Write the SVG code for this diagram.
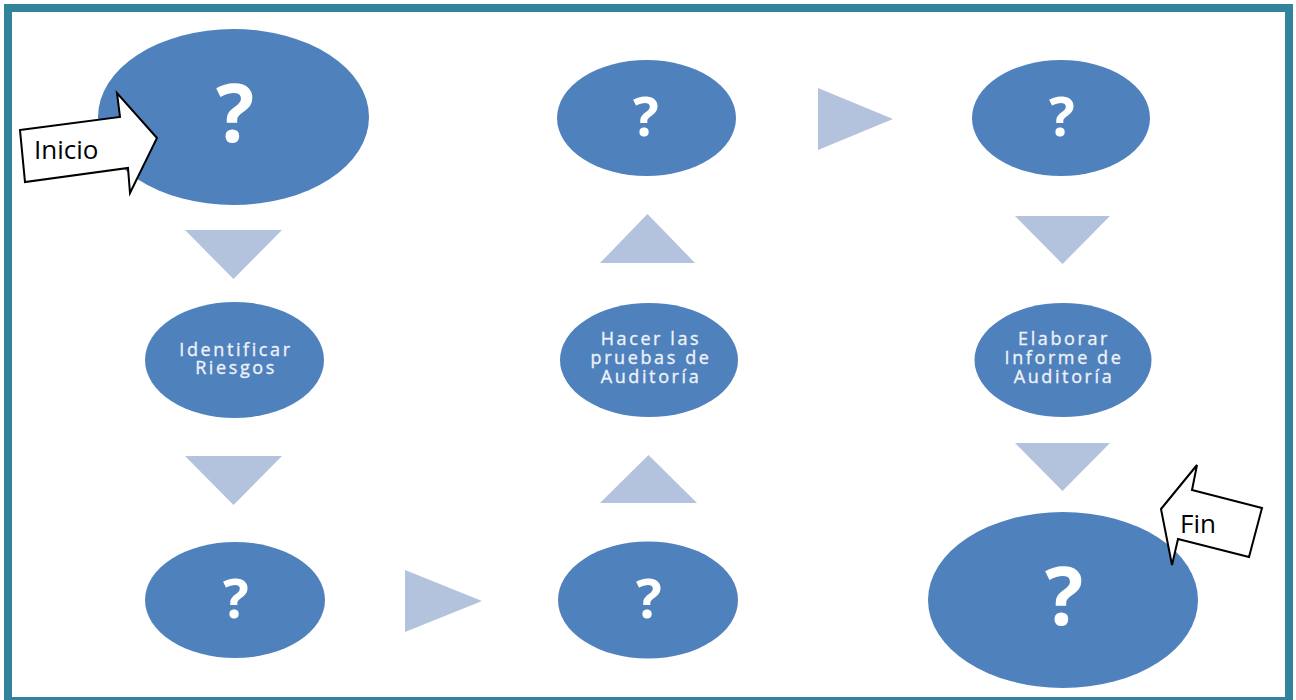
<svg xmlns="http://www.w3.org/2000/svg" width="1296" height="700" viewBox="0 0 1296 700">
  <style>
    .node { fill: #4F81BD; }
    .q { fill: #FFFFFF; font-family: "Open Sans", "DejaVu Sans", sans-serif; font-weight: bold; text-anchor: middle; }
    .lbl { fill: #EEF2F8; stroke: #EEF2F8; stroke-width: 0.35px; font-family: "Open Sans", "DejaVu Sans", sans-serif; font-size: 18px; letter-spacing: 2.6px; text-anchor: middle; }
    .tri { fill: #B3C2DD; }
    .callout { fill: #FFFFFF; stroke: #000000; stroke-width: 2; stroke-linejoin: miter; }
    .ctext { fill: #000000; font-family: "Open Sans", "Liberation Sans", sans-serif; font-size: 26px; }
  </style>

  <!-- frame -->
  <rect x="0" y="0" width="1296" height="700" fill="#FFFFFF"/>
  <rect x="8" y="8" width="1281" height="693" fill="#FFFFFF" stroke="#31849B" stroke-width="8"/>

  <!-- flow arrows (triangles) -->
  <g id="connectors">
    <polygon class="tri" points="185,230 282,230 233.5,279"/>
    <polygon class="tri" points="185,456 282,456 233.5,505"/>
    <polygon class="tri" points="405,570 482,601 405,632"/>
    <polygon class="tri" points="600,503 697,503 648.5,455"/>
    <polygon class="tri" points="600,263 695,263 647.5,214"/>
    <polygon class="tri" points="818,88 893,119 818,150"/>
    <polygon class="tri" points="1015,216 1110,216 1062.5,264"/>
    <polygon class="tri" points="1015,443 1110,443 1062.5,491"/>
  </g>

  <g id="start">
    <ellipse class="node" cx="233.5" cy="117" rx="135.5" ry="88"/>
    <text class="q" x="235" y="142" font-size="80">?</text>
  </g>

  <g id="identificar">
    <ellipse class="node" cx="234.5" cy="360" rx="89.5" ry="58"/>
    <text class="lbl" x="236" y="356">Identificar</text>
    <text class="lbl" x="236" y="374">Riesgos</text>
  </g>

  <g id="step-bl">
    <ellipse class="node" cx="235" cy="600" rx="90" ry="58"/>
    <text class="q" x="236" y="618" font-size="54">?</text>
  </g>

  <g id="step-bm">
    <ellipse class="node" cx="648" cy="600" rx="90" ry="58.5"/>
    <text class="q" x="649" y="618" font-size="54">?</text>
  </g>

  <g id="hacer">
    <ellipse class="node" cx="649" cy="360" rx="89" ry="57"/>
    <text class="lbl" x="651" y="345">Hacer las</text>
    <text class="lbl" x="651" y="364">pruebas de</text>
    <text class="lbl" x="651" y="383">Auditoría</text>
  </g>

  <g id="step-tm">
    <ellipse class="node" cx="646.5" cy="118" rx="89.5" ry="58"/>
    <text class="q" x="646" y="136" font-size="54">?</text>
  </g>

  <g id="step-tr">
    <ellipse class="node" cx="1061" cy="118" rx="89" ry="58"/>
    <text class="q" x="1062" y="136" font-size="54">?</text>
  </g>

  <g id="elaborar">
    <ellipse class="node" cx="1063" cy="360" rx="88.5" ry="57"/>
    <text class="lbl" x="1064" y="345">Elaborar</text>
    <text class="lbl" x="1064" y="364">Informe de</text>
    <text class="lbl" x="1064" y="383">Auditoría</text>
  </g>

  <g id="end">
    <ellipse class="node" cx="1063" cy="600" rx="135" ry="88"/>
    <text class="q" x="1064" y="625" font-size="80">?</text>
  </g>

  <!-- callout arrows -->
  <g id="inicio">
    <polygon class="callout" points="20,130 120,117 117,93 157,138 130,193 128,168 25,182"/>
    <text class="ctext" x="34" y="159">Inicio</text>
  </g>

  <g id="fin">
    <polygon class="callout" points="1161,509 1197,465 1192,490 1262,508 1249,557 1178,539 1172,565"/>
    <text class="ctext" x="1180" y="533">Fin</text>
  </g>
</svg>
